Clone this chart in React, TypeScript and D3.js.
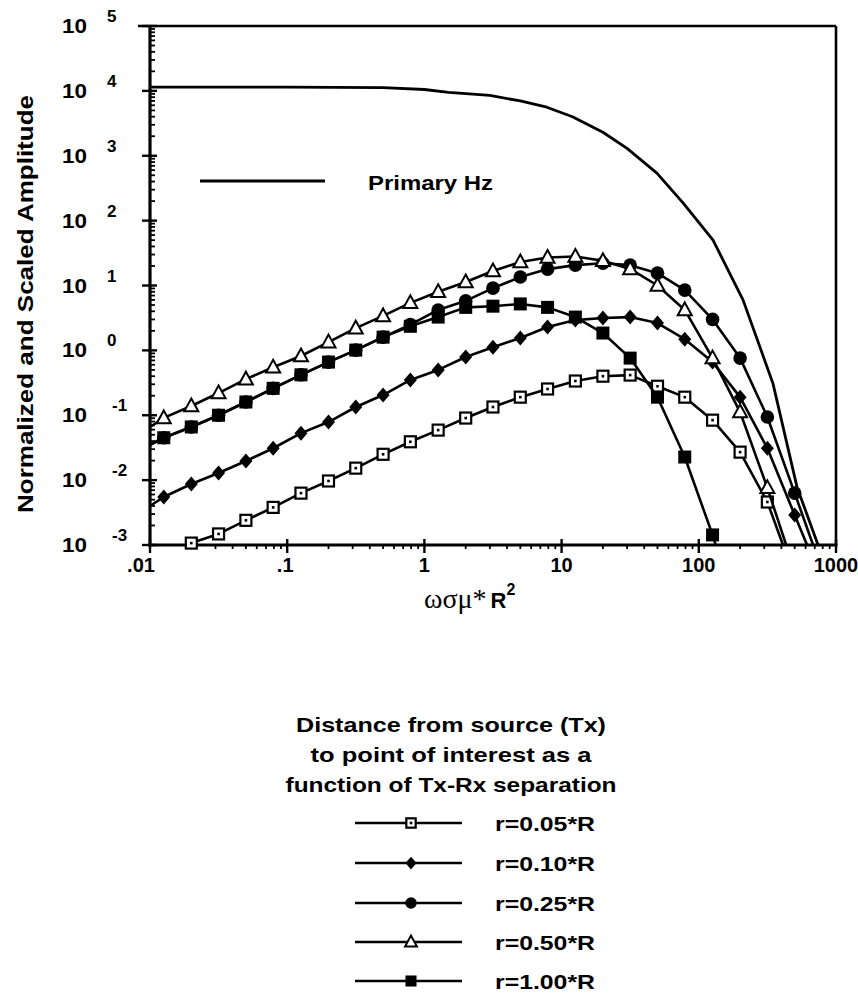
import React from 'react';
import * as d3 from 'd3';

// ---------- data ----------
const X_GRID = [0.0126, 0.02, 0.0316, 0.05, 0.079, 0.126, 0.2, 0.316, 0.5, 0.79, 1.26, 2, 3.16, 5, 7.9, 12.6, 20, 31.6, 50, 79, 126, 200, 316, 500, 794];

const R005 = [null, 0.00107, 0.00148, 0.0024, 0.0038, 0.0063, 0.0097, 0.0153, 0.025, 0.039, 0.059, 0.0906, 0.134, 0.19, 0.254, 0.337, 0.40, 0.416, 0.28, 0.19, 0.084, 0.027, 0.0046, 0.00032, null];
const R010 = [0.0055, 0.0087, 0.0129, 0.0197, 0.031, 0.053, 0.0785, 0.134, 0.205, 0.35, 0.50, 0.79, 1.12, 1.55, 2.29, 2.93, 3.15, 3.26, 2.64, 1.49, 0.66, 0.19, 0.031, 0.0029, 0.00027];
const R025 = [0.045, 0.066, 0.10, 0.16, 0.26, 0.42, 0.66, 1.01, 1.6, 2.5, 4.2, 5.8, 9.1, 13.5, 17.9, 20.6, 22, 20.6, 15.5, 8.5, 3.0, 0.76, 0.094, 0.0063, 0.0004];
const R050 = [0.091, 0.139, 0.22, 0.36, 0.55, 0.82, 1.34, 2.2, 3.4, 5.4, 8.0, 11.3, 16.7, 23, 27, 28, 24, 18, 10, 4.2, 0.76, 0.112, 0.0076, 0.0004, null];
const R100 = [0.045, 0.066, 0.10, 0.16, 0.26, 0.42, 0.66, 1.01, 1.6, 2.35, 3.26, 4.6, 4.8, 5.2, 4.6, 3.26, 1.85, 0.76, 0.19, 0.0227, 0.00143, 0.00006, null, null, null];

// value of each curve at the left edge (x = 0.01), line only
const START_X = 0.01;
const START_VALUES = [0.0005, 0.004, 0.035, 0.066, 0.035];

const SERIES_LABELS = ['r=0.05*R', 'r=0.10*R', 'r=0.25*R', 'r=0.50*R', 'r=1.00*R'];
const SERIES_SHAPES = ['openSquare', 'diamond', 'circle', 'triangle', 'filledSquare'];
const SERIES_VALUES = [R005, R010, R025, R050, R100];

const PRIMARY_X = [0.01, 0.1, 0.5, 1, 1.5, 3, 5, 7.8, 12, 20, 30, 49.5, 77, 127, 210, 347, 520, 740];
const PRIMARY_Y = [11400, 11400, 11200, 10500, 9500, 8500, 7000, 5600, 4000, 2300, 1300, 540, 186, 50, 6, 0.31, 0.0078, 0.001];

const X_TICKS = [0.01, 0.1, 1, 10, 100, 1000];
const X_TICK_LABELS = ['.01', '.1', '1', '10', '100', '1000'];
const Y_EXPONENTS = [-3, -2, -1, 0, 1, 2, 3, 4, 5];

const LEGEND_TITLE = ['Distance from source (Tx)', 'to point of interest as a', 'function of Tx-Rx separation'];

// ---------- layout ----------
const W = 858;
const H = 995;
const PL = 150, PR = 836, PT = 26, PB = 545;

const FONT = '"Liberation Sans", Arial, Helvetica, sans-serif';

function Marker({ shape, cx, cy, k = 1 }: { shape: string; cx: number; cy: number; k?: number }) {
  if (shape === 'openSquare') {
    const s = 11 * k;
    return (
      <g>
        <rect x={cx - s / 2} y={cy - s / 2} width={s} height={s} fill="#fff" stroke="#000" strokeWidth={2.2} />
        <rect x={cx - 1.3} y={cy - 1.3} width={2.6} height={2.6} fill="#000" />
      </g>
    );
  }
  if (shape === 'diamond') {
    const w = 6.5 * k, h = 7.5 * k;
    return <path d={`M${cx},${cy - h}L${cx + w},${cy}L${cx},${cy + h}L${cx - w},${cy}Z`} fill="#000" />;
  }
  if (shape === 'circle') {
    return <circle cx={cx} cy={cy} r={6.8 * k} fill="#000" />;
  }
  if (shape === 'triangle') {
    const w = 7 * k, h = 7.5 * k;
    return (
      <path
        d={`M${cx},${cy - h}L${cx + w},${cy + h * 0.7}L${cx - w},${cy + h * 0.7}Z`}
        fill="#fff"
        stroke="#000"
        strokeWidth={2}
        strokeLinejoin="miter"
      />
    );
  }
  const s = 13 * k;
  return <rect x={cx - s / 2} y={cy - s / 2} width={s} height={s} fill="#000" />;
}

export default function App() {
  const x = d3.scaleLog().domain([0.01, 1000]).range([PL, PR]);
  const y = d3.scaleLog().domain([1e-3, 1e5]).range([PB, PT]);

  const line = d3
    .line<[number, number]>()
    .x((d) => x(d[0]))
    .y((d) => y(d[1]));

  const primaryPts: [number, number][] = PRIMARY_X.map((v, i) => [v, PRIMARY_Y[i]]);

  const seriesPts = SERIES_VALUES.map((vals, si) => {
    const pts: [number, number][] = [[START_X, START_VALUES[si]]];
    vals.forEach((v, i) => {
      if (v != null) pts.push([X_GRID[i], v]);
    });
    return pts;
  });

  // minor ticks
  const yMinor: number[] = [];
  for (let e = -3; e < 5; e++) for (let m = 2; m <= 9; m++) yMinor.push(m * Math.pow(10, e));
  const xMinor: number[] = [];
  for (let e = -2; e < 3; e++) for (let m = 2; m <= 9; m++) xMinor.push(m * Math.pow(10, e));

  const legendRowsY = [823, 863, 903, 942, 981];

  return (
    <svg
      width={W}
      height={H}
      viewBox={`0 0 ${W} ${H}`}
      style={{ position: 'absolute', left: 0, top: 0, background: '#fff' }}
      fontFamily={FONT}
    >
      <rect x={0} y={0} width={W} height={H} fill="#fff" />
      <defs>
        <clipPath id="plotClip">
          <rect x={PL} y={PT} width={PR - PL} height={PB - PT} />
        </clipPath>
      </defs>

      {/* frame */}
      <line x1={138} y1={PT} x2={PR} y2={PT} stroke="#000" strokeWidth={2.6} />
      <line x1={PR} y1={PT} x2={PR} y2={PB} stroke="#000" strokeWidth={2.6} />
      <line x1={PL} y1={PT - 1} x2={PL} y2={PB + 1.5} stroke="#000" strokeWidth={3.2} />
      <line x1={PL - 1.5} y1={PB} x2={PR + 1.5} y2={PB} stroke="#000" strokeWidth={3.2} />

      {/* y ticks */}
      {yMinor.map((v, i) => (
        <line key={'ym' + i} x1={PL} x2={PL + 5} y1={y(v)} y2={y(v)} stroke="#000" strokeWidth={1.8} />
      ))}
      {Y_EXPONENTS.map((e) => (
        <line key={'yM' + e} x1={PL - 8} x2={PL + 7} y1={y(Math.pow(10, e))} y2={y(Math.pow(10, e))} stroke="#000" strokeWidth={2.4} />
      ))}
      {/* x ticks */}
      {xMinor.map((v, i) => (
        <line key={'xm' + i} x1={x(v)} x2={x(v)} y1={PB} y2={PB + 4} stroke="#000" strokeWidth={1.8} />
      ))}
      {X_TICKS.map((v) => (
        <line key={'xM' + v} x1={x(v)} x2={x(v)} y1={PB - 6} y2={PB + 8} stroke="#000" strokeWidth={2.4} />
      ))}

      {/* y tick labels */}
      {Y_EXPONENTS.map((e) => {
        const ty = y(Math.pow(10, e));
        return (
          <g key={'yl' + e} fontWeight="bold">
            <text x={87} y={ty + 7} textAnchor="end" fontSize={20} textLength={25} lengthAdjust="spacingAndGlyphs">
              10
            </text>
            <text x={e < 0 ? 112 : 107} y={ty - 4} fontSize={17}>
              {String(e)}
            </text>
          </g>
        );
      })}

      {/* x tick labels */}
      {X_TICKS.map((v, i) => {
        const dx = i === 0 ? -9 : i === 1 ? -2 : 0;
        return (
          <text key={'xl' + v} x={x(v) + dx} y={572} textAnchor="middle" fontSize={20} fontWeight="bold">
            {X_TICK_LABELS[i]}
          </text>
        );
      })}

      {/* axis titles */}
      <text
        transform={`translate(33,304) rotate(-90)`}
        textAnchor="middle"
        fontSize={22}
        fontWeight="bold"
        textLength={418}
        lengthAdjust="spacingAndGlyphs"
      >
        Normalized and Scaled Amplitude
      </text>
      <text x={424} y={608}>
        <tspan fontFamily='"Liberation Serif", "DejaVu Serif", serif' fontSize={28}>ωσμ*</tspan>
        <tspan fontFamily={FONT} fontWeight="bold" fontSize={22} dx={4}>R</tspan>
        <tspan fontFamily={FONT} fontWeight="bold" fontSize={16} dy={-13}>2</tspan>
      </text>

      {/* curves */}
      <g clipPath="url(#plotClip)">
        <path d={line(primaryPts) || ''} fill="none" stroke="#000" strokeWidth={2.8} strokeLinejoin="round" />
      </g>
      {seriesPts.map((pts, si) => (
        <g key={'s' + si}>
          <g clipPath="url(#plotClip)">
            <path d={line(pts) || ''} fill="none" stroke="#000" strokeWidth={2.6} strokeLinejoin="round" />
          </g>
          {SERIES_VALUES[si].map((v, i) =>
            v != null && v >= 0.00095 ? (
              <Marker key={i} shape={SERIES_SHAPES[si]} cx={x(X_GRID[i])} cy={y(v)} />
            ) : null
          )}
        </g>
      ))}

      {/* primary legend */}
      <line x1={200} x2={325} y1={181} y2={181} stroke="#000" strokeWidth={2.8} />
      <text x={368} y={190} fontSize={20} fontWeight="bold" textLength={125} lengthAdjust="spacingAndGlyphs">
        Primary Hz
      </text>

      {/* series legend */}
      {LEGEND_TITLE.map((t, i) => (
        <text
          key={'lt' + i}
          x={451}
          y={732 + i * 30}
          textAnchor="middle"
          fontSize={21}
          fontWeight="bold"
          textLength={[310, 281, 331][i]}
          lengthAdjust="spacingAndGlyphs"
        >
          {t}
        </text>
      ))}
      {SERIES_LABELS.map((lab, i) => {
        const ly = legendRowsY[i];
        return (
          <g key={'lg' + i}>
            <line x1={355} x2={462} y1={ly} y2={ly} stroke="#000" strokeWidth={2.6} />
            <Marker shape={SERIES_SHAPES[i]} cx={411} cy={ly} k={0.85} />
            <text x={495} y={ly + 8} fontSize={20} fontWeight="bold" textLength={100} lengthAdjust="spacingAndGlyphs">
              {lab}
            </text>
          </g>
        );
      })}
    </svg>
  );
}
